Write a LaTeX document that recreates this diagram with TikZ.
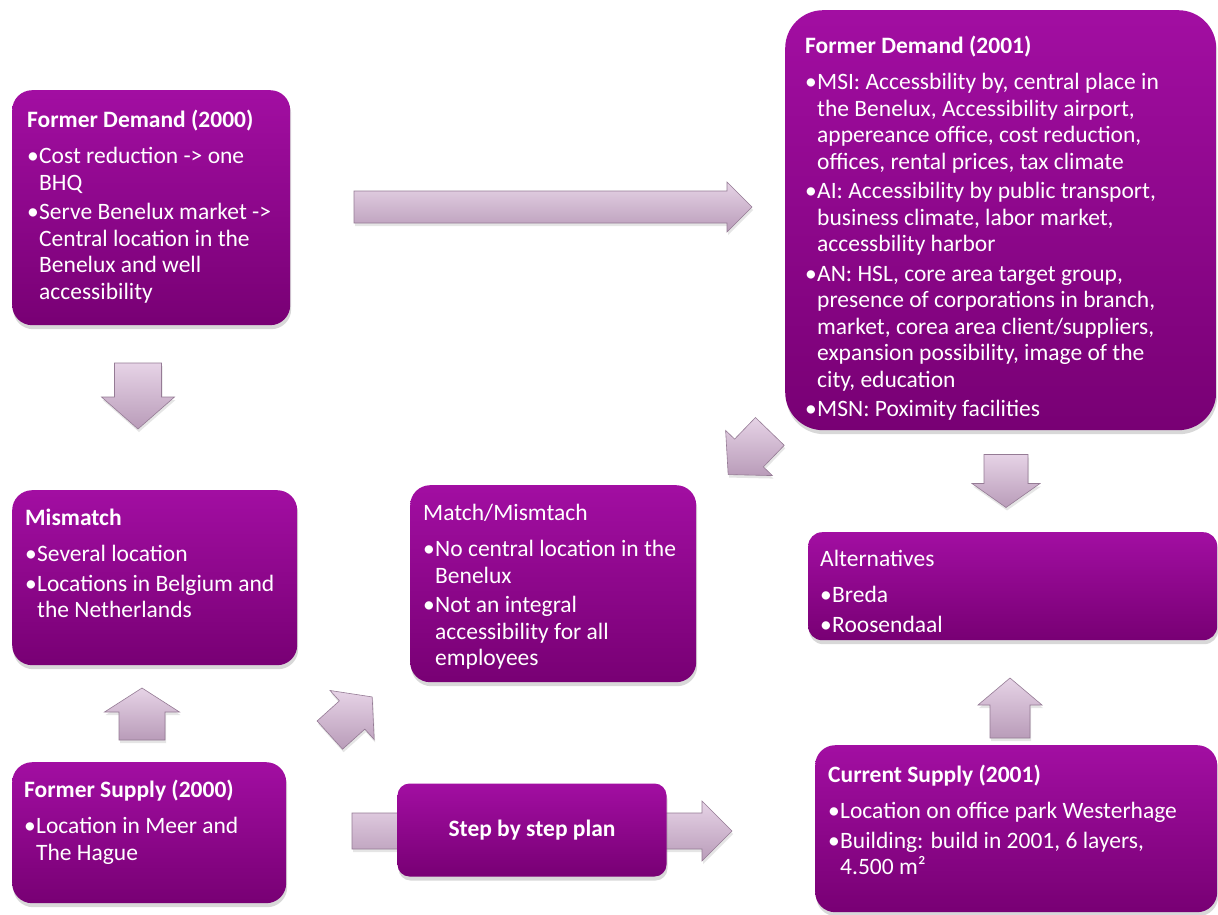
\documentclass[tikz,border=0pt]{standalone}
\usepackage{fontspec}
\setmainfont{Carlito}
\usepackage{tikz}
\usetikzlibrary{shadows}

\definecolor{boxtop}{HTML}{A20EA2}
\definecolor{boxbot}{HTML}{780074}
\definecolor{arrowtop}{HTML}{E6D3E6}
\definecolor{arrowbot}{HTML}{B99CB9}
\definecolor{arrowline}{HTML}{957B95}

% width, height, left pad, top pad, content
\newcommand{\panel}[5]{\parbox[t][#2pt][t]{#1pt}{\raggedright\leftskip=#3pt\parskip=3pt
  \fontsize{23.5}{26.5}\selectfont\color{white}\vspace*{#4pt}#5}}
\newcommand{\ttl}[1]{\strut#1\par\vspace{6.5pt}}
\newcommand{\itm}[1]{\hangindent=12pt\hangafter=1\noindent\makebox[12pt][l]{\textbullet}#1\par}

% center, angle, length, shaft width, head width, head length
\newcommand{\blockarrow}[6]{%
  \path[arrowshape, shift={#1}, rotate=#2]
    ({-#3/2},{-#4/2}) -- ({#3/2-#6},{-#4/2}) -- ({#3/2-#6},{-#5/2}) -- ({#3/2},0)
    -- ({#3/2-#6},{#5/2}) -- ({#3/2-#6},{#4/2}) -- ({-#3/2},{#4/2}) -- cycle;}

\begin{document}
\begin{tikzpicture}[x=1pt,y=-1pt,
    box/.style={rectangle,rounded corners=20pt,inner sep=0pt,top color=boxtop,bottom color=boxbot,
                drop shadow={shadow xshift=1pt,shadow yshift=-4pt,opacity=.3}},
    arrowshape/.style={draw=arrowline,line width=.6pt,top color=arrowtop,bottom color=arrowbot,
                drop shadow={shadow xshift=1pt,shadow yshift=-3pt,opacity=.2}}]

\fill[white] (0,0) rectangle (1218,915);
\useasboundingbox (0,0) rectangle (1218,915);

% arrows
\blockarrow{(553,207)}{0}{398}{32}{50}{25}
\blockarrow{(138,396)}{-90}{66}{47}{73}{32}
\blockarrow{(142,714)}{90}{52}{46}{75}{24}
\blockarrow{(351,716)}{42}{57}{38}{66}{27}
\blockarrow{(749,453)}{-134}{60}{40}{65}{30}
\blockarrow{(1006,481)}{-90}{53}{44}{68}{24}
\blockarrow{(1010,708)}{90}{60}{40}{64}{27}
\blockarrow{(542,831)}{0}{380}{36}{60}{30}

% boxes
\node[box,anchor=north west] (fd0) at (12,90) {\panel{278}{235}{15}{16}{%
  \ttl{\textbf{Former Demand (2000)}}
  \itm{Cost reduction -> one\newline BHQ}
  \itm{Serve Benelux market ->\newline Central location in the\newline Benelux  and well\newline accessibility}}};

\node[box,anchor=north west,rounded corners=38pt] (fd1) at (785,10) {\panel{431}{420}{20}{22}{%
  \ttl{\textbf{Former Demand (2001)}}
  \itm{MSI: Accessbility by, central place in\newline the Benelux, Accessibility airport,\newline appereance office, cost reduction,\newline offices, rental prices, tax climate}
  \itm{AI: Accessibility by public transport,\newline business climate, labor market,\newline accessbility harbor}
  \itm{AN: HSL, core area target group,\newline presence of corporations in branch,\newline market, corea area client/suppliers,\newline expansion possibility, image of the\newline city, education}
  \itm{MSN: Poximity facilities}}};

\node[box,anchor=north west] (mis) at (12,490) {\panel{285}{175}{13}{14}{%
  \ttl{\textbf{Mismatch}}
  \itm{Several location}
  \itm{Locations in Belgium and\newline the Netherlands}}};

\node[box,anchor=north west] (match) at (410,485) {\panel{286}{197}{13}{14}{%
  \ttl{Match/Mismtach}
  \itm{No central location in the\newline Benelux}
  \itm{Not an integral\newline accessibility for all\newline employees}}};

\node[box,anchor=north west,rounded corners=14pt] (alt) at (808,532) {\panel{409}{108}{12}{13}{%
  \ttl{Alternatives}
  \itm{Breda}
  \itm{Roosendaal}}};

\node[box,anchor=north west] (fs) at (12,762) {\panel{274}{141}{12}{14}{%
  \ttl{\textbf{Former Supply (2000)}}
  \itm{Location in Meer and\newline The Hague}}};

\node[box,anchor=north west] (cs) at (815,745) {\panel{402}{167}{13}{16}{%
  \ttl{\textbf{Current Supply (2001)}}
  \itm{Location on office park Westerhage}
  \itm{Building: build in 2001, 6 layers,\newline 4.500 m²}}};

\node[box,rounded corners=12pt,minimum width=269,minimum height=93,text=white,
      font=\fontsize{23.5}{26.5}\selectfont\bfseries] (step) at (532,830) {Step by step plan};

\end{tikzpicture}
\end{document}
